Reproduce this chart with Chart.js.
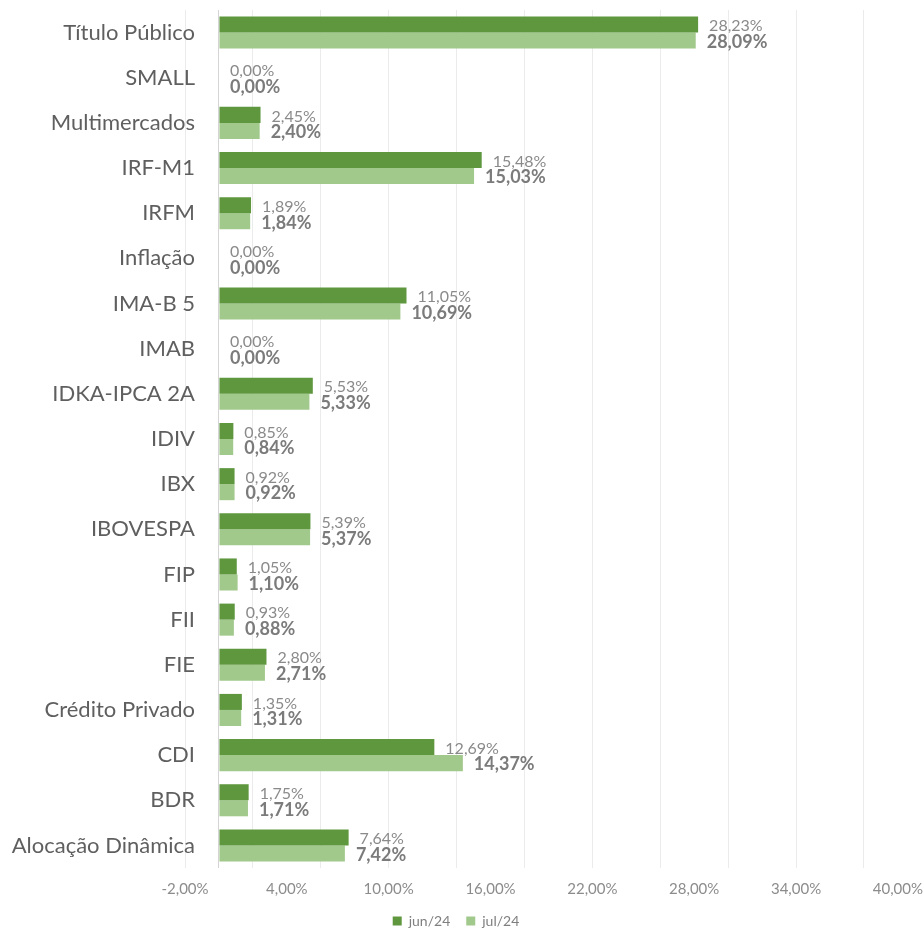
<!DOCTYPE html>
<html lang="pt-BR">
<head>
<meta charset="utf-8">
<title>Alocação por segmento</title>
<script src="https://cdn.jsdelivr.net/npm/chart.js@4.4.1/dist/chart.umd.min.js"></script>
<style>
  html, body { margin: 0; padding: 0; background: #ffffff; }
  #wrap { width: 923px; height: 930px; }
</style>
</head>
<body>
<div id="wrap"><canvas id="chart" width="923" height="930"></canvas></div>
<script>
// Segmentos da carteira (de cima para baixo)
const categories = [
  'Título Público', 'SMALL', 'Multimercados', 'IRF-M1', 'IRFM', 'Inflação',
  'IMA-B 5', 'IMAB', 'IDKA-IPCA 2A', 'IDIV', 'IBX', 'IBOVESPA', 'FIP', 'FII',
  'FIE', 'Crédito Privado', 'CDI', 'BDR', 'Alocação Dinâmica'
];

// Participação (%) em cada mês
const seriesNames = ['jun/24', 'jul/24'];
const jun24 = [28.23, 0.00, 2.45, 15.48, 1.89, 0.00, 11.05, 0.00, 5.53, 0.85, 0.92, 5.39, 1.05, 0.93, 2.80, 1.35, 12.69, 1.75, 7.64];
const jul24 = [28.09, 0.00, 2.40, 15.03, 1.84, 0.00, 10.69, 0.00, 5.33, 0.84, 0.92, 5.37, 1.10, 0.88, 2.71, 1.31, 14.37, 1.71, 7.42];

// Eixo de valores
const axisMin = -2;
const axisMax = 40;
const labelStep = 6;   // rótulos a cada 6 p.p.
const gridStep = 4;    // linhas de grade a cada 4 p.p.

const fmtPct = v => v.toFixed(2).replace('.', ',') + '%';

Chart.defaults.font.family = 'Lato, "Open Sans", sans-serif';

// Rótulos de valor ao lado de cada barra
const valueLabels = {
  id: 'valueLabels',
  afterDatasetsDraw(chart) {
    const ctx = chart.ctx;
    const styles = [
      { font: 'normal 16px Lato', color: '#8a8a8a' },
      { font: 'bold 18px Lato', color: '#7b7b7b' }
    ];
    chart.data.datasets.forEach((ds, i) => {
      const meta = chart.getDatasetMeta(i);
      ctx.save();
      ctx.font = styles[i].font;
      ctx.fillStyle = styles[i].color;
      ctx.textAlign = 'left';
      ctx.textBaseline = 'middle';
      meta.data.forEach((bar, j) => {
        ctx.fillText(fmtPct(ds.data[j]), bar.x + 11, bar.y + 1.5);
      });
      ctx.restore();
    });
  }
};

// A legenda fica centrada sob o gráfico inteiro, não só sob a área de plotagem
const legendOffset = {
  id: 'legendOffset',
  afterLayout(chart) {
    const lg = chart.legend;
    if (!lg) return;
    lg.left -= 98; lg.right -= 98;
  }
};

new Chart(document.getElementById('chart'), {
  type: 'bar',
  data: {
    labels: categories,
    datasets: [
      { label: seriesNames[0], data: jun24, backgroundColor: '#5E973E', borderWidth: 0 },
      { label: seriesNames[1], data: jul24, backgroundColor: '#A2C98C', borderWidth: 0 }
    ]
  },
  options: {
    indexAxis: 'y',
    responsive: false,
    animation: false,
    devicePixelRatio: 1,
    categoryPercentage: 0.71,
    barPercentage: 1.0,
    layout: { padding: { top: 10, right: 0, bottom: 0, left: 185 } },
    scales: {
      x: {
        min: axisMin,
        max: axisMax,
        border: { display: false },
        grid: {
          drawTicks: true,
          tickLength: 12,
          tickColor: 'rgba(0,0,0,0)',
          lineWidth: 1,
          color: ctx => {
            const v = Math.round(ctx.tick.value);
            if (v === 0) return '#d4d4d4';
            if ((v - axisMin) % gridStep === 0 && v !== axisMax) return '#ebebeb';
            return 'rgba(0,0,0,0)';
          }
        },
        ticks: {
          stepSize: 2,
          autoSkip: false,
          maxRotation: 0,
          padding: 0,
          color: '#8c8c8c',
          font: { size: 15 },
          callback: v => {
            const r = Math.round(v);
            return (r - axisMin) % labelStep === 0 ? fmtPct(r) : '';
          }
        }
      },
      y: {
        // rótulos das categorias alinhados à direita, logo antes do eixo zero
        position: { x: -1.41 },
        border: { display: false },
        grid: { display: false, drawTicks: false },
        ticks: {
          padding: 0,
          color: '#5f5f5f',
          font: { size: 22, lineHeight: 0.9 }
        }
      }
    },
    plugins: {
      legend: {
        position: 'bottom',
        maxHeight: 32,
        labels: {
          boxWidth: 9,
          boxHeight: 9,
          padding: 16,
          color: '#7f7f7f',
          font: { size: 14 }
        }
      },
      tooltip: { enabled: false }
    }
  },
  plugins: [valueLabels, legendOffset]
});
</script>
</body>
</html>
